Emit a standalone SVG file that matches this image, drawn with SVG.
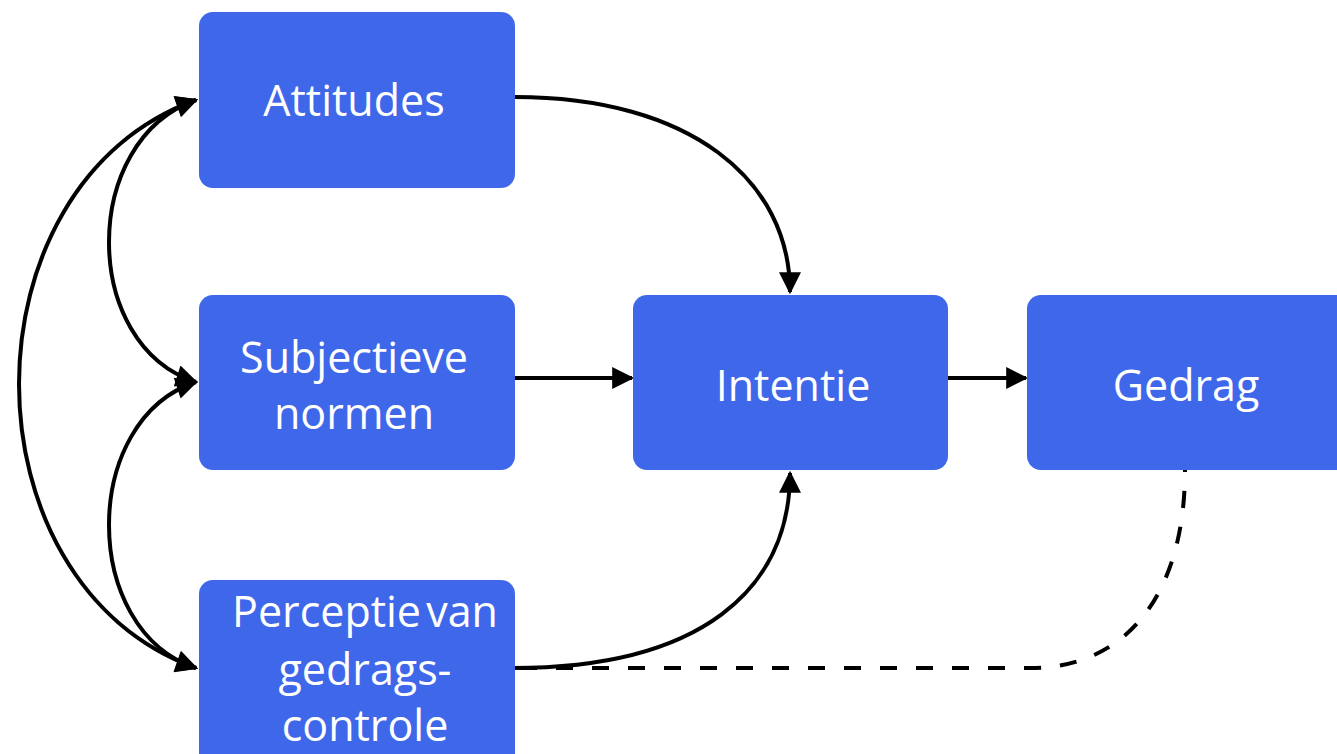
<svg xmlns="http://www.w3.org/2000/svg" width="1337" height="754" viewBox="0 0 1337 754">
<defs>
<style>
.box{fill:#3F67EA;}
.lbl{fill:#FFFFFF;font-family:"Open Sans","Noto Sans",sans-serif;font-size:43px;text-anchor:middle;}
.ln{fill:none;stroke:#000;stroke-width:4;}
.dash{fill:none;stroke:#000;stroke-width:4;stroke-dasharray:17 19;}
</style>
<marker id="ah" viewBox="0 0 10 10" refX="9" refY="5" markerWidth="24" markerHeight="22" markerUnits="userSpaceOnUse" orient="auto-start-reverse">
<path d="M0,0 L10,5 L0,10 z" fill="#000"/>
</marker>
</defs>
<rect width="1337" height="754" fill="#FFFFFF"/>
<g id="connectors">
<path class="ln" d="M515,97 C690,97 790,180 790,292" marker-end="url(#ah)"/>
<path class="ln" d="M515,378 L632,378" marker-end="url(#ah)"/>
<path class="ln" d="M948,378 L1026,378" marker-end="url(#ah)"/>
<path class="ln" d="M513,668 C700,668 790,590 790,473" marker-end="url(#ah)"/>
<path class="dash" d="M520,668 L1030,668 C1130,668 1185,590 1185,470"/>
<path class="ln" d="M196,100 C80,140 80,345 196,382" marker-start="url(#ah)" marker-end="url(#ah)"/>
<path class="ln" d="M196,382 C80,420 80,630 196,668" marker-start="url(#ah)" marker-end="url(#ah)"/>
<path class="ln" d="M196,100 C-40,185 -40,583 196,668" marker-start="url(#ah)" marker-end="url(#ah)"/>
</g>
<g id="attitudes">
<rect class="box" x="199" y="12" width="316" height="176" rx="14"/>
<text class="lbl" x="354" y="116">Attitudes</text>
</g>
<g id="subjectieve-normen">
<rect class="box" x="199" y="295" width="316" height="175" rx="14"/>
<text class="lbl" x="354" y="373">Subjectieve</text>
<text class="lbl" x="354" y="429">normen</text>
</g>
<g id="perceptie">
<rect class="box" x="199" y="580" width="316" height="190" rx="14"/>
<text class="lbl" x="365" y="627" style="word-spacing:-6px">Perceptie van</text>
<text class="lbl" x="365" y="685">gedrags-</text>
<text class="lbl" x="365" y="741">controle</text>
</g>
<g id="intentie">
<rect class="box" x="633" y="295" width="315" height="175" rx="14"/>
<text class="lbl" x="793" y="401">Intentie</text>
</g>
<g id="gedrag">
<rect class="box" x="1027" y="295" width="330" height="175" rx="14"/>
<text class="lbl" x="1186" y="401">Gedrag</text>
</g>
</svg>
